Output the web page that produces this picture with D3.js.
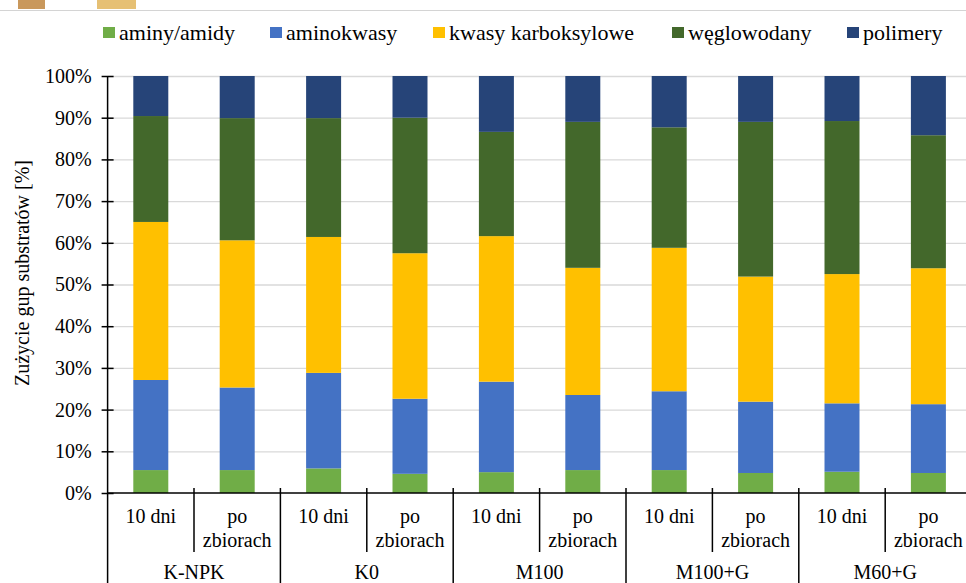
<!DOCTYPE html>
<html>
<head>
<meta charset="utf-8">
<script src="https://cdn.jsdelivr.net/npm/d3@7"></script>
<style>
  body { margin: 0; background: #fff; }
  svg text { font-family: "Liberation Serif", "Times New Roman", Times, "DejaVu Serif", serif; }
</style>
</head>
<body>
<svg id="chart" width="966" height="583"></svg>
<script>
// data (percent share of each substrate group)
const groups = ["K-NPK", "K0", "M100", "M100+G", "M60+G"];
const terms = ["10 dni", "po zbiorach"];
const seriesNames = ["aminy/amidy", "aminokwasy", "kwasy karboksylowe", "węglowodany", "polimery"];
const seriesColors = ["#70AD47", "#4472C4", "#FFC000", "#43682B", "#264478"];
const aminy = [5.5, 5.5, 5.9, 4.6, 5.0, 5.5, 5.5, 4.8, 5.1, 4.8];
const aminokwasy = [21.6, 19.8, 22.9, 18.0, 21.7, 18.0, 18.9, 17.1, 16.4, 16.5];
const kwasy = [37.9, 35.3, 32.6, 34.9, 34.9, 30.5, 34.4, 30.0, 31.0, 32.6];
const weglowodany = [25.4, 29.3, 28.5, 32.5, 25.0, 35.0, 28.9, 37.1, 36.7, 31.9];
const polimery = [9.6, 10.1, 10.1, 10.0, 13.4, 11.0, 12.3, 11.0, 10.8, 14.2];
const yTicks = [0, 10, 20, 30, 40, 50, 60, 70, 80, 90, 100];

const values = [aminy, aminokwasy, kwasy, weglowodany, polimery];
// one row per bar
const rows = [];
groups.forEach((g, gi) => terms.forEach((t, ti) => {
  const i = gi * terms.length + ti;
  const row = { id: i, group: g, term: t };
  seriesNames.forEach((s, si) => row[s] = values[si][i]);
  rows.push(row);
}));

const svg = d3.select("#chart");
const plotLeft = 107.6, plotTop = 76, plotBottom = 493;
const pad = 0.595;

const x = d3.scaleBand()
  .domain(rows.map(d => d.id))
  .range([plotLeft, plotLeft + 86.4 * rows.length])
  .paddingInner(pad)
  .paddingOuter(pad / 2);
const y = d3.scaleLinear().domain([0, 100]).range([plotBottom, plotTop]);
const color = d3.scaleOrdinal().domain(seriesNames).range(seriesColors);

// scrap of the page above the chart
svg.append("rect").attr("x", 18).attr("y", 0).attr("width", 27).attr("height", 9).attr("fill", "#c9985c");
svg.append("rect").attr("x", 97).attr("y", 0).attr("width", 39).attr("height", 9).attr("fill", "#e6c074");
svg.append("line").attr("x1", 0).attr("x2", 966).attr("y1", 10.5).attr("y2", 10.5)
  .attr("stroke", "#d4d4d4").attr("stroke-width", 1);

// gridlines
svg.append("g")
  .attr("transform", `translate(${plotLeft},0)`)
  .call(d3.axisLeft(y).tickValues(yTicks.slice(1)).tickSize(-(966 - plotLeft)).tickFormat(""))
  .call(g => g.select(".domain").remove())
  .call(g => g.selectAll("line").attr("stroke", "#d9d9d9").attr("stroke-width", 1.3));

// stacked bars
const stack = d3.stack().keys(seriesNames)(rows);
svg.append("g").selectAll("g")
  .data(stack)
  .join("g")
  .attr("fill", d => color(d.key))
  .selectAll("rect")
  .data(d => d)
  .join("rect")
  .attr("x", d => x(d.data.id))
  .attr("width", x.bandwidth())
  .attr("y", d => y(d[1]))
  .attr("height", d => y(d[0]) - y(d[1]));

// y axis
svg.append("g")
  .attr("transform", `translate(${plotLeft},0)`)
  .call(d3.axisLeft(y).tickValues(yTicks).tickFormat(d => d + "%").tickSizeOuter(0))
  .attr("font-family", null)
  .call(g => g.select(".domain").remove())
  .call(g => g.selectAll(".tick line").attr("x1", 6).attr("x2", -6).attr("stroke", "#000").attr("stroke-width", 1.5))
  .call(g => g.selectAll(".tick text")
    .attr("x", -16)
    .attr("font-size", 20)
    .attr("fill", "#000"));

svg.append("line")
  .attr("x1", plotLeft).attr("x2", plotLeft).attr("y1", plotTop).attr("y2", 583)
  .attr("stroke", "#000").attr("stroke-width", 1.5);

svg.append("text")
  .attr("transform", `translate(29,273) rotate(-90)`)
  .attr("text-anchor", "middle")
  .attr("font-size", 20)
  .text("Zużycie gup substratów [%]");

// multi-level category axis
const step = x.step();
const xAxis = svg.append("g").attr("class", "axis axis--x");
xAxis.append("line")
  .attr("x1", plotLeft).attr("x2", plotLeft + step * rows.length)
  .attr("y1", plotBottom).attr("y2", plotBottom)
  .attr("stroke", "#000").attr("stroke-width", 1.5);

// boundary lines: short between terms, long between groups
d3.range(1, rows.length + 1).forEach(i => {
  const bx = plotLeft + step * i;
  const groupEdge = i % terms.length === 0;
  xAxis.append("line")
    .attr("x1", bx).attr("x2", bx)
    .attr("y1", plotBottom - 5).attr("y2", groupEdge ? 583 : 552)
    .attr("stroke", "#000").attr("stroke-width", 1.5);
});

const termLabels = xAxis.selectAll(".term")
  .data(rows)
  .join("text")
  .attr("class", "term")
  .attr("text-anchor", "middle")
  .attr("font-size", 20)
  .attr("x", d => x(d.id) + x.bandwidth() / 2)
  .attr("y", 523);
termLabels.each(function(d) {
  const words = d.term === "po zbiorach" ? ["po", "zbiorach"] : [d.term];
  d3.select(this).selectAll("tspan")
    .data(words)
    .join("tspan")
    .attr("x", x(d.id) + x.bandwidth() / 2)
    .attr("dy", (w, k) => k === 0 ? 0 : 23.5)
    .text(w => w);
});

xAxis.selectAll(".group")
  .data(groups)
  .join("text")
  .attr("class", "group")
  .attr("text-anchor", "middle")
  .attr("font-size", 20)
  .attr("x", (g, gi) => plotLeft + step * (gi * terms.length + terms.length / 2))
  .attr("y", 579)
  .text(g => g);

// legend, swatch positions taken from the original layout
const legendX = [103, 270, 433, 672, 847];
const legend = svg.append("g").attr("class", "legend");
seriesNames.forEach((s, i) => {
  const item = legend.append("g").attr("transform", `translate(${legendX[i]},0)`);
  item.append("rect")
    .attr("x", 0).attr("y", 27).attr("width", 12).attr("height", 11)
    .attr("fill", color(s));
  item.append("text")
    .attr("x", 16).attr("y", 40)
    .attr("font-size", 22)
    .text(s);
});
</script>
</body>
</html>
